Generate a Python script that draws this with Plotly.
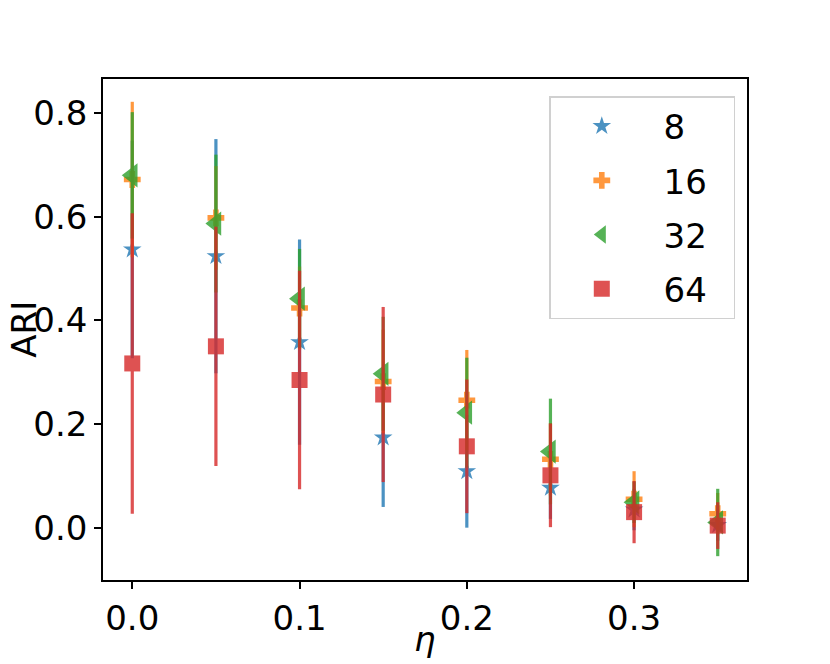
import plotly.graph_objects as go

# noise level
eta = [0.0, 0.05, 0.1, 0.15, 0.2, 0.25, 0.3, 0.35]

# mean ARI and std for each group size
ari_8 = [0.537, 0.524, 0.358, 0.174, 0.109, 0.077, 0.035, 0.005]
std_8 = [0.21, 0.226, 0.198, 0.134, 0.109, 0.06, 0.04, 0.03]
ari_16 = [0.672, 0.598, 0.424, 0.282, 0.246, 0.132, 0.055, 0.027]
std_16 = [0.15, 0.10, 0.08, 0.10, 0.097, 0.07, 0.054, 0.04]
ari_32 = [0.680, 0.587, 0.442, 0.297, 0.222, 0.147, 0.049, 0.010]
std_32 = [0.122, 0.133, 0.096, 0.11, 0.106, 0.102, 0.04, 0.065]
ari_64 = [0.317, 0.350, 0.285, 0.257, 0.157, 0.101, 0.030, 0.004]
std_64 = [0.29, 0.231, 0.211, 0.169, 0.129, 0.100, 0.06, 0.045]

labels = ["8", "16", "32", "64"]
means = [ari_8, ari_16, ari_32, ari_64]
stds = [std_8, std_16, std_32, std_64]
colors = ["#1f77b4", "#ff7f0e", "#2ca02c", "#d62728"]
symbols = ["star", "cross", "triangle-left", "square"]
sizes = [14, 14, 21, 16]

FONT = "DejaVu Sans"

fig = go.Figure()
for lab, m, s, c, sym, sz in zip(labels, means, stds, colors, symbols, sizes):
    fig.add_trace(go.Scatter(
        x=eta, y=m, mode="markers", name=" " + lab + "  ", legendgroup=lab,
        opacity=0.8,
        marker=dict(symbol=sym, size=sz, color=c, line=dict(width=0)),
        error_y=dict(type="data", array=s, visible=True, thickness=3.2, width=0, color=c),
    ))

# page body has an 8px margin, so the figure is a bit smaller than the window
fig.update_layout(
    width=822, height=656,
    margin=dict(l=95, r=83, t=71, b=84),
    paper_bgcolor="white", plot_bgcolor="white",
    font=dict(family=FONT, size=34, color="black"),
    showlegend=True,
    legend=dict(
        x=0.693, y=0.966, xanchor="left", yanchor="top",
        bordercolor="#d0d0d0", borderwidth=1.5, bgcolor="rgba(255,255,255,0.8)",
        font=dict(size=34), tracegroupgap=7, itemwidth=92,
    ),
    annotations=[
        dict(text="ARI", x=-0.124, y=0.5, xref="paper", yref="paper",
             textangle=-90, showarrow=False, font=dict(size=34),
             xanchor="center", yanchor="middle"),
        dict(text="<i>η</i>", x=0.5, y=-0.118, xref="paper", yref="paper",
             showarrow=False, font=dict(size=34),
             xanchor="center", yanchor="middle"),
    ],
)

fig.update_xaxes(
    range=[-0.0175, 0.3675], tickvals=[0.0, 0.1, 0.2, 0.3],
    ticktext=["0.0", "0.1", "0.2", "0.3"],
    showgrid=False, zeroline=False, showline=True, mirror=True,
    linecolor="black", linewidth=1.5, ticks="outside", ticklen=7,
    tickwidth=1.5, tickcolor="black",
)
fig.update_yaxes(
    range=[-0.101, 0.866], tickvals=[0.0, 0.2, 0.4, 0.6, 0.8],
    ticktext=["0.0", "0.2", "0.4", "0.6", "0.8"],
    showgrid=False, zeroline=False, showline=True, mirror=True,
    linecolor="black", linewidth=1.5, ticks="outside", ticklen=7,
    tickwidth=1.5, tickcolor="black",
)

fig.write_html("out.html")
